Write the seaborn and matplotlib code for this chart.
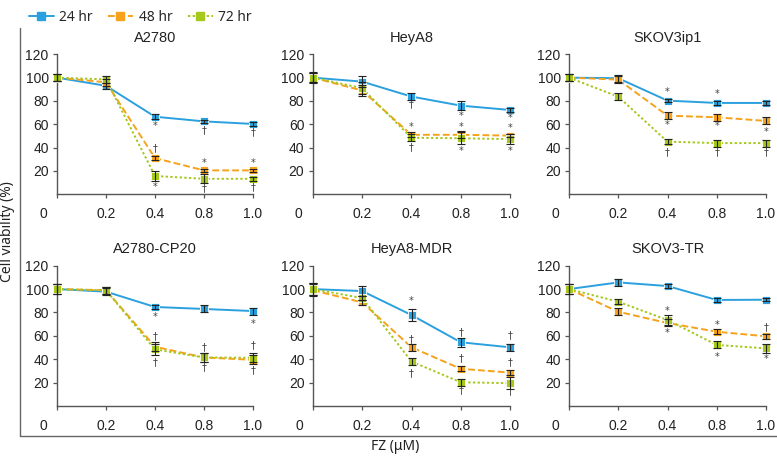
import numpy as np
import pandas as pd
import matplotlib
matplotlib.use("Agg")
import matplotlib.pyplot as plt
import matplotlib.transforms as mtransforms
from matplotlib.lines import Line2D
import seaborn as sns

# ---------------- data ----------------
doses = ["0", "0.2", "0.4", "0.8", "1.0"]
times = ["24 hr", "48 hr", "72 hr"]
panels = ["A2780", "HeyA8", "SKOV3ip1", "A2780-CP20", "HeyA8-MDR", "SKOV3-TR"]

a2780_24 = [100, 93, 66.5, 62.5, 60.3]
a2780_48 = [100, 96, 31, 20.5, 20.5]
a2780_72 = [100, 98.5, 15.7, 13.3, 13.3]
heya8_24 = [100, 96.6, 83.8, 76, 72.3]
heya8_48 = [100, 89, 51, 51, 50.3]
heya8_72 = [100, 91, 48.5, 48, 47.3]
skov3ip1_24 = [100, 99.5, 80.3, 78.3, 78.3]
skov3ip1_48 = [100, 98.3, 67.4, 66, 62.9]
skov3ip1_72 = [100, 83.7, 45.1, 43.9, 43.9]
cp20_24 = [100, 97.8, 84.7, 83, 81.2]
cp20_48 = [100, 99, 50.7, 41.5, 39.5]
cp20_72 = [100, 99, 48.4, 41.5, 41.3]
mdr_24 = [100, 98.3, 77.8, 54.5, 50.2]
mdr_48 = [99, 88.6, 50.2, 31.8, 28.6]
mdr_72 = [100, 92.3, 38, 20.3, 19.5]
tr_24 = [100, 105.7, 102.6, 90.7, 90.9]
tr_48 = [100, 80.6, 71, 63.5, 59.6]
tr_72 = [100, 89.2, 73.5, 52.2, 49.3]

a2780_err = [[3, 2.5, 2, 1.5, 1.5], [3, 3, 1.5, 1.5, 1.5], [3, 3, 4, 4, 1.5]]
heya8_err = [[5, 5, 3, 4, 1.5], [4, 5, 2, 3, 1.5], [4, 5, 3, 5, 4]]
skov3ip1_err = [[3, 3, 1.5, 1.5, 1.5], [3, 3, 3, 3, 3], [3, 3, 2, 3, 3]]
cp20_err = [[4, 3, 2, 3, 3], [4, 3, 4, 4, 4], [4, 3, 5, 4, 4]]
mdr_err = [[5, 4, 5, 4, 3], [5, 2, 3, 2, 2], [5, 2, 3, 3, 5]]
tr_err = [[4, 3, 2, 2, 1.5], [4, 3, 3, 2, 2], [4, 2, 4, 3, 4]]

# significance marks: (dose index, y value, symbol)
a2780_sig = [(2, 58.5, "*"), (2, 39.5, "†"), (2, 6.5, "*"), (3, 55, "†"), (3, 26.5, "*"),
             (3, 5, "†"), (4, 53, "†"), (4, 26.5, "*"), (4, 6, "†")]
heya8_sig = [(2, 77, "†"), (2, 57.5, "*"), (2, 40, "†"), (3, 67, "*"), (3, 58, "*"),
             (3, 37.5, "*"), (4, 65.5, "*"), (4, 57, "*"), (4, 37, "*")]
skov3ip1_sig = [(2, 88, "*"), (2, 59.5, "*"), (2, 36.5, "†"), (3, 86, "*"), (3, 58.5, "*"),
                (3, 35.7, "†"), (4, 53.2, "*"), (4, 35.7, "†")]
cp20_sig = [(2, 76.5, "*"), (2, 59.8, "†"), (2, 37.3, "†"), (3, 50.7, "†"), (3, 32.8, "†"),
            (4, 70.5, "*"), (4, 52, "†"), (4, 30.8, "†")]
mdr_sig = [(2, 89.5, "*"), (2, 57.3, "†"), (2, 27.9, "†"), (3, 63.5, "†"), (3, 40.7, "†"),
           (3, 13.1, "†"), (4, 60.7, "†"), (4, 37.3, "†"), (4, 13, "†")]
tr_sig = [(2, 81.5, "*"), (2, 62.7, "*"), (3, 69.5, "*"), (3, 42.2, "*"), (4, 67, "†"),
          (4, 40.2, "*")]

panel_values = [
    (a2780_24, a2780_48, a2780_72), (heya8_24, heya8_48, heya8_72),
    (skov3ip1_24, skov3ip1_48, skov3ip1_72), (cp20_24, cp20_48, cp20_72),
    (mdr_24, mdr_48, mdr_72), (tr_24, tr_48, tr_72),
]
panel_errs = [a2780_err, heya8_err, skov3ip1_err, cp20_err, mdr_err, tr_err]
panel_sigs = [a2780_sig, heya8_sig, skov3ip1_sig, cp20_sig, mdr_sig, tr_sig]

# ---------------- style ----------------
sns.set_theme(style="ticks")
plt.rcParams["font.family"] = ["Liberation Sans", "DejaVu Sans"]

colors = {"24 hr": "#2BA0DE", "48 hr": "#F6A21D", "72 hr": "#A6C81C"}
dashes = {"24 hr": "", "48 hr": (3.5, 1.6), "72 hr": (1.2, 1.2)}
markers = {"24 hr": "s", "48 hr": "s", "72 hr": "s"}
axis_col = "#555555"

W, H = 777, 457
fig = plt.figure(figsize=(W / 100, H / 100), dpi=100)

# axes positions in pixels: (left, right, top_y120, bottom_y0)
boxes = [
    (57, 253, 54.3, 194.3), (312.7, 510, 54.3, 194.3), (569, 766, 54.3, 194.3),
    (57, 253, 265.7, 406), (313, 510, 265.7, 406), (569, 766, 265.7, 406),
]

x_pos = np.arange(len(doses))

for i, name in enumerate(panels):
    l, r, t, b = boxes[i]
    ax = fig.add_axes([l / W, 1 - b / H, (r - l) / W, (b - t) / H])
    rows = []
    for ti, tm in enumerate(times):
        for xi, d in enumerate(doses):
            rows.append({"x": x_pos[xi], "dose": d, "time": tm,
                         "v": panel_values[i][ti][xi], "e": panel_errs[i][ti][xi]})
    df = pd.DataFrame(rows)
    sns.lineplot(data=df, x="x", y="v", hue="time", style="time", palette=colors,
                 dashes=dashes, markers=markers, markersize=5.5, markeredgewidth=0.6,
                 linewidth=1.4, ax=ax, legend=False, clip_on=False, zorder=3)
    for tm in times:
        sub = df[df["time"] == tm]
        ax.errorbar(sub["x"], sub["v"], yerr=sub["e"], fmt="none", ecolor="#222222",
                    elinewidth=0.8, capsize=2.6, capthick=0.8, zorder=4, clip_on=False)
    for xi, yv, sym in panel_sigs[i]:
        ax.text(x_pos[xi], yv, sym, ha="center", va="center", fontsize=7,
                color="#444444", family=["DejaVu Sans"])

    ax.set_xlim(0, 4)
    ax.set_ylim(0, 120)
    ax.set_yticks([20, 40, 60, 80, 100, 120])
    ax.set_xticks(x_pos)
    ax.set_xticklabels(doses)
    ax.set_xlabel("")
    ax.set_ylabel("")
    ax.set_title(name, fontsize=10.5, color="#222222", pad=9)
    for sp in ["top", "right"]:
        ax.spines[sp].set_visible(False)
    for sp in ["left", "bottom"]:
        ax.spines[sp].set_color(axis_col)
        ax.spines[sp].set_linewidth(1.0)
    ax.tick_params(axis="y", length=3, width=0.9, color=axis_col, labelsize=10,
                   labelcolor="#222222", pad=3)
    ax.tick_params(axis="x", length=3, width=0.9, color=axis_col, labelsize=10,
                   labelcolor="#222222", pad=6)
    lab0 = ax.get_xticklabels()[0]
    lab0.set_transform(lab0.get_transform() +
                       mtransforms.ScaledTranslation(-14 / 100, 0, fig.dpi_scale_trans))

# outer frame
fig.add_artist(Line2D([20 / W, 20 / W], [1 - 28 / H, 1 - 436 / H], color="#666666",
                      lw=1.0, transform=fig.transFigure))
fig.add_artist(Line2D([20 / W, 1], [1 - 436 / H, 1 - 436 / H], color="#666666",
                      lw=1.0, transform=fig.transFigure))

fig.text(8 / W, 1 - 232 / H, "Cell viability (%)", rotation=90, ha="center", va="center",
         fontsize=10, color="#222222", family=["Noto Sans", "DejaVu Sans"])
fig.text(395 / W, 1 - 447 / H, "FZ (μM)", ha="center", va="center", fontsize=10,
         color="#222222", family=["Noto Sans", "DejaVu Sans"])

handles = []
for t in times:
    h = Line2D([0], [0], color=colors[t], marker="s", markersize=5.5, lw=1.4)
    if dashes[t]:
        h.set_dashes(dashes[t])
    handles.append(h)
fig.legend(handles, times, loc="upper left", bbox_to_anchor=(16 / W, 1 + 3 / H), ncol=3,
           frameon=False, handlelength=1.8, handletextpad=0.4,
           columnspacing=1.1, prop={"family": ["Noto Sans", "DejaVu Sans"], "size": 10})

fig.savefig("out.png", dpi=100)
